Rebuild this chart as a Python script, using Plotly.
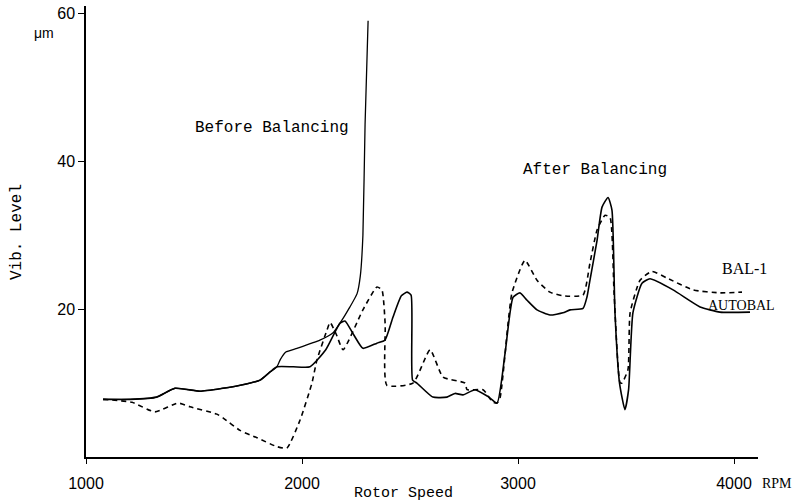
import plotly.graph_objects as go

# ---- data ----
before_rpm = [1079, 1204, 1327, 1412, 1528, 1634, 1713, 1806, 1852, 1884, 1900, 1925, 1977,
              2083, 2144, 2176, 2222, 2255, 2270, 2282, 2292, 2306]
before_vib = [7.8, 7.8, 8.1, 9.3, 8.9, 9.3, 9.7, 10.4, 11.5, 12.2, 13.2, 14.2, 14.7,
              15.8, 16.8, 18.1, 20.3, 22.1, 24.5, 30.0, 45.0, 59.0]

autobal_rpm = [1079, 1204, 1327, 1412, 1528, 1634, 1713, 1806, 1852, 1884, 1960, 2037,
               2110, 2176, 2199, 2240, 2282, 2347, 2384, 2421, 2460, 2486, 2505, 2512,
               2532, 2606, 2671, 2708, 2745, 2801, 2860, 2903, 2940, 2977, 3009, 3042,
               3088, 3148, 3208, 3241, 3301, 3319, 3333, 3366, 3389, 3417, 3435, 3449,
               3470, 3495, 3512, 3532, 3574, 3611, 3718, 3843, 3935, 4074]
autobal_vib = [7.8, 7.8, 8.1, 9.3, 8.9, 9.3, 9.7, 10.4, 11.5, 12.2, 12.2, 12.2,
               14.5, 18.1, 18.4, 16.5, 14.7, 15.4, 15.8, 18.9, 21.8, 22.3, 21.9, 10.4,
               10.0, 8.1, 8.1, 8.6, 8.4, 9.1, 8.2, 7.3, 14.0, 21.6, 22.2, 21.2,
               19.9, 19.2, 19.5, 19.9, 20.1, 21.6, 23.9, 29.3, 33.8, 35.1, 33.4, 19.5,
               10.0, 6.4, 9.1, 19.5, 23.5, 24.1, 22.6, 20.3, 19.6, 19.6]

bal1_rpm = [1079, 1213, 1319, 1426, 1481, 1606, 1634, 1713, 1792, 1884, 1930, 1991,
            2046, 2069, 2116, 2130, 2160, 2190, 2282, 2347, 2370, 2385, 2393, 2514,
            2593, 2653, 2755, 2764, 2838, 2884, 2903, 2917, 2954, 2972, 3032, 3088,
            3148, 3208, 3301, 3333, 3366, 3403, 3426, 3445, 3472, 3481, 3509, 3519,
            3565, 3620, 3690, 3810, 3935, 4037]
bal1_vib = [7.8, 7.4, 6.1, 7.3, 6.8, 5.8, 5.3, 3.6, 2.6, 1.4, 1.2, 5.0,
            10.0, 13.1, 17.2, 18.2, 16.5, 14.5, 19.9, 23.0, 22.6, 18.0, 9.7, 10.0,
            14.5, 10.8, 10.0, 9.1, 9.1, 7.4, 7.3, 8.0, 18.1, 22.2, 26.6, 23.9,
            22.3, 21.8, 21.9, 26.2, 30.7, 32.7, 32.4, 22.0, 10.1, 10.0, 11.8, 19.5,
            23.9, 25.1, 24.2, 22.6, 22.2, 22.3]

x_ticks = [1000, 2000, 3000, 4000]
x_tick_labels = ["1000", "2000", "3000", "4000"]
y_ticks = [20, 40, 60]
y_tick_labels = ["20", "40", "60"]

# ---- layout geometry ----
W, H = 799, 504
L, R, T, B = 86, 41, 6, 47
PW, PH = W - L - R, H - T - B


def px(xp):
    return (xp - L) / PW


def py(yp):
    return (H - B - yp) / PH


fig = go.Figure()
line_style = dict(color="black", width=1.6, shape="spline", smoothing=0.5)
fig.add_trace(go.Scatter(x=before_rpm, y=before_vib, mode="lines",
                         line=dict(line_style, width=1.3), name="Before Balancing"))
fig.add_trace(go.Scatter(x=autobal_rpm, y=autobal_vib, mode="lines",
                         line=line_style, name="AUTOBAL"))
fig.add_trace(go.Scatter(x=bal1_rpm, y=bal1_vib, mode="lines",
                         line=dict(line_style, dash="5px,4px"), name="BAL-1"))

mono = "Liberation Mono"
sans = "Liberation Sans"
serif = "Liberation Serif"
annots = [
    dict(text="Before Balancing", x=px(272), y=py(128), font=dict(family=mono, size=16)),
    dict(text="After Balancing", x=px(595), y=py(170), font=dict(family=mono, size=16)),
    dict(text="BAL-1", x=px(744), y=py(268), font=dict(family=serif, size=16)),
    dict(text="AUTOBAL", x=px(741), y=py(305), font=dict(family=serif, size=14)),
    dict(text="RPM", x=px(777), y=py(483), font=dict(family=serif, size=14)),
    dict(text="Rotor Speed", x=px(403), y=py(493), font=dict(family=mono, size=15)),
    dict(text="μm", x=px(44), y=py(33), font=dict(family=sans, size=14)),
    dict(text="Vib. Level", x=px(17), y=py(232), textangle=-90, font=dict(family=mono, size=16)),
]
for a in annots:
    fig.add_annotation(xref="paper", yref="paper", showarrow=False,
                       xanchor="center", yanchor="middle", **a)

fig.update_layout(
    width=W, height=H,
    margin=dict(l=L, r=R, t=T, b=B, pad=0),
    paper_bgcolor="white", plot_bgcolor="white",
    showlegend=False,
    font=dict(family=sans, size=16, color="black"),
    xaxis=dict(range=[1000, 1000 + PW / 0.216], tickvals=x_ticks, ticktext=x_tick_labels,
               showgrid=False, zeroline=False, showline=True, linecolor="black",
               linewidth=2, ticks="outside", ticklen=5, tickwidth=1, tickcolor="black",
               ticklabelstandoff=6, tickfont=dict(family=sans, size=16)),
    yaxis=dict(range=[0, 61], tickvals=y_ticks, ticktext=y_tick_labels,
               showgrid=False, zeroline=False, showline=True, linecolor="black",
               linewidth=1.5, ticks="outside", ticklen=6, tickwidth=1, tickcolor="black",
               tickfont=dict(family=sans, size=16)),
)

fig.write_html("out.html")
